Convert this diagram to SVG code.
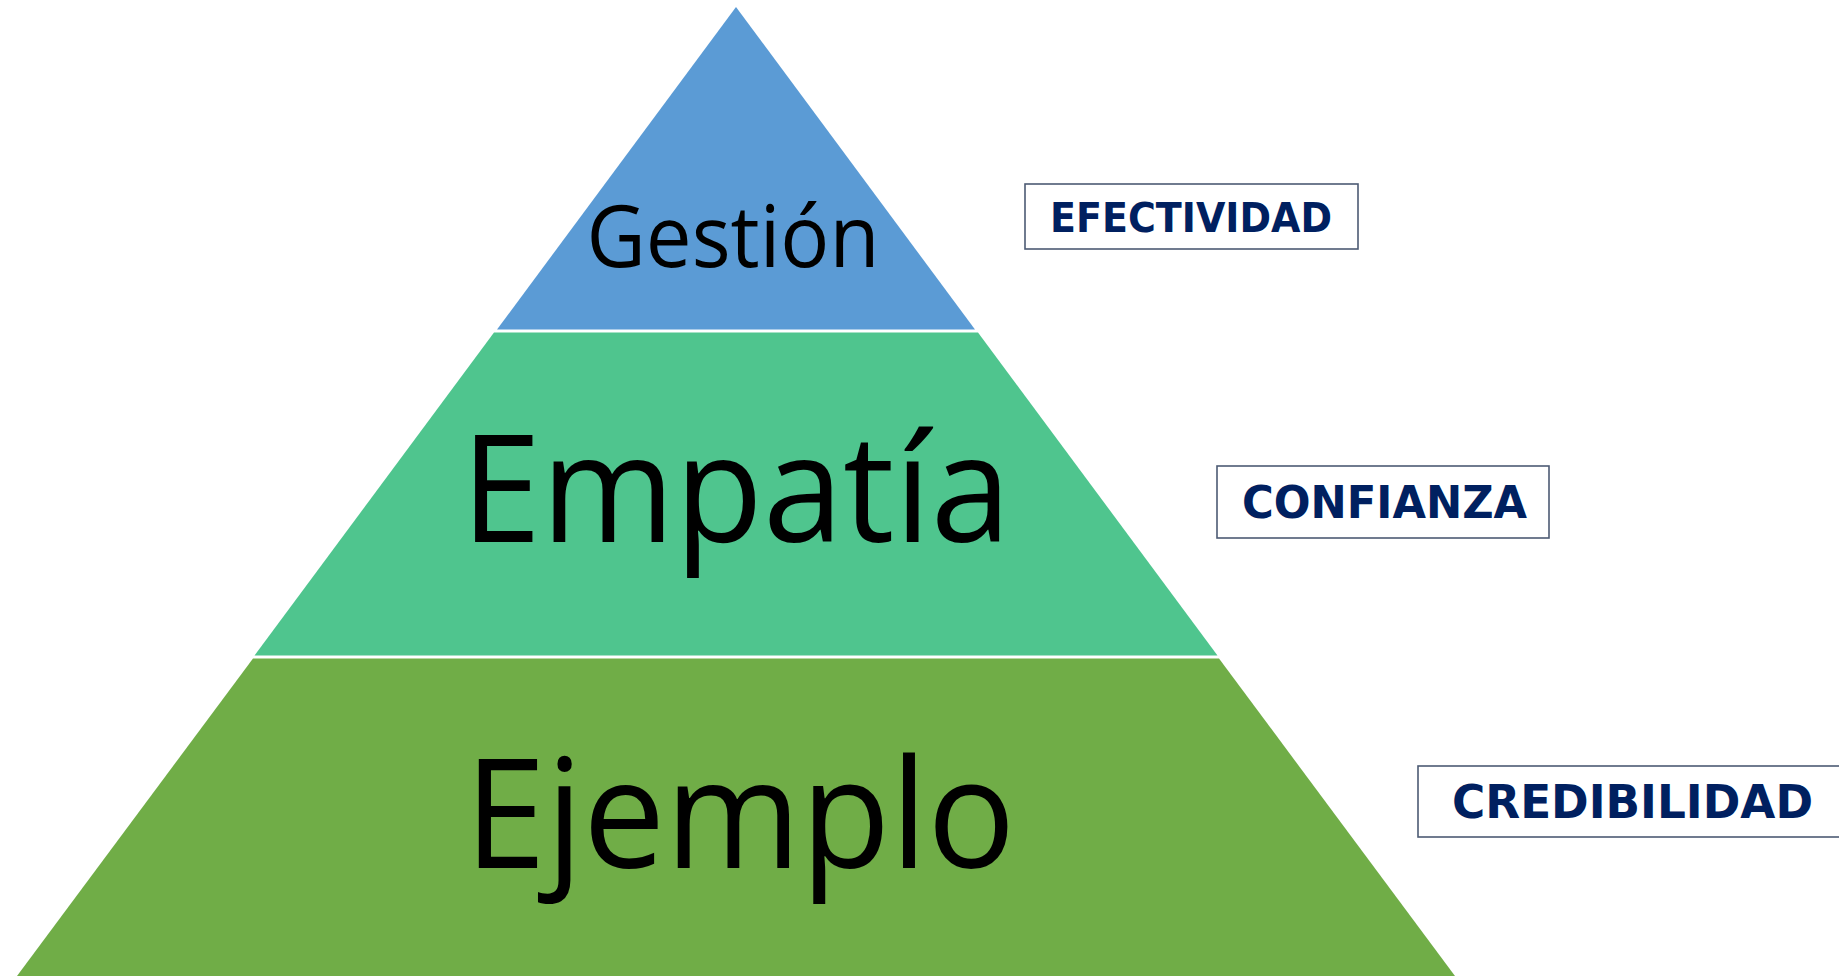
<svg xmlns="http://www.w3.org/2000/svg" width="1839" height="976" viewBox="0 0 1839 976">
<style>
.lvl{font-family:"Open Sans","Noto Sans","Liberation Sans",sans-serif;fill:#000;text-anchor:middle}
.box{fill:#fff;stroke:#4d5b74;stroke-width:1.6}
.lab{font-family:"DejaVu Sans","Liberation Sans",sans-serif;font-weight:bold;fill:#002060;text-anchor:middle}
</style>
<rect width="1839" height="976" fill="#fff"/>
<g id="gestion">
<polygon points="736,7 975,329.5 497,329.5" fill="#5B9BD5"/>
<text class="lvl" x="733" y="267" font-size="86" textLength="293" lengthAdjust="spacingAndGlyphs">Gestión</text>
</g>
<g id="empatia">
<polygon points="494,332.5 978,332.5 1217.5,655.5 254.5,655.5" fill="#4FC58E"/>
<text class="lvl" x="736" y="542" font-size="151" textLength="550" lengthAdjust="spacingAndGlyphs">Empatía</text>
</g>
<g id="ejemplo">
<polygon points="253,658.5 1219,658.5 1455,976 17,976" fill="#70AD47"/>
<text class="lvl" x="740" y="868" font-size="152" textLength="551" lengthAdjust="spacingAndGlyphs">Ejemplo</text>
</g>
<g id="efectividad">
<rect class="box" x="1025" y="184" width="333" height="65"/>
<text class="lab" x="1191" y="232" font-size="40" textLength="282" lengthAdjust="spacingAndGlyphs">EFECTIVIDAD</text>
</g>
<g id="confianza">
<rect class="box" x="1217" y="466" width="332" height="72"/>
<text class="lab" x="1384.5" y="518" font-size="45" textLength="285" lengthAdjust="spacingAndGlyphs">CONFIANZA</text>
</g>
<g id="credibilidad">
<rect class="box" x="1418" y="766" width="430" height="71"/>
<text class="lab" x="1632.5" y="818" font-size="46" textLength="361" lengthAdjust="spacingAndGlyphs">CREDIBILIDAD</text>
</g>
<g id="connectors"/>
</svg>
